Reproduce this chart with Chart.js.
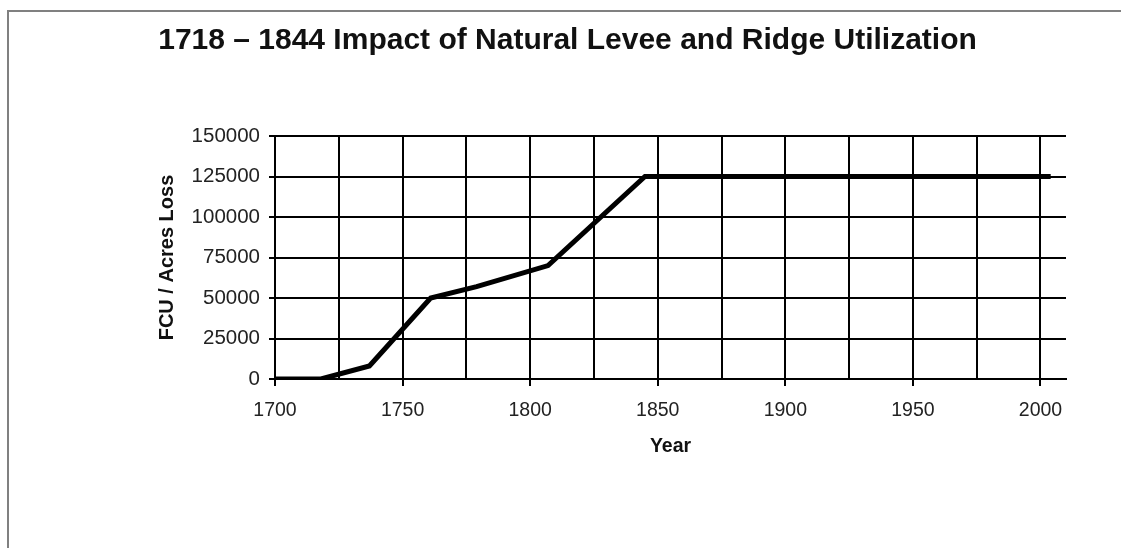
<!DOCTYPE html>
<html>
<head>
<meta charset="utf-8">
<title>1718 – 1844 Impact of Natural Levee and Ridge Utilization</title>
<script src="https://cdn.jsdelivr.net/npm/chart.js@4/dist/chart.umd.min.js"></script>
<style>
    html, body { margin: 0; padding: 0; background: #fff; overflow: hidden; }
    #frame {
        position: absolute; left: 7px; top: 10px;
        width: 1300px; height: 700px;
        border-top: 2px solid #808080; border-left: 2px solid #808080;
    }
    #chart { position: absolute; left: 0; top: 0; }
</style>
</head>
<body>
<div id="frame"></div>
<canvas id="chart" width="1121" height="548"></canvas>
<script>
// values
const years = [1700, 1718, 1737, 1761, 1779, 1807, 1845, 2004];
const acresLoss = [0, 0, 8000, 50000, 57000, 70000, 125000, 125000];

const gridYears = [1700, 1725, 1750, 1775, 1800, 1825, 1850, 1875, 1900, 1925, 1950, 1975, 2000];
const labelYears = [1700, 1750, 1800, 1850, 1900, 1950, 2000];
const yTicks = [0, 25000, 50000, 75000, 100000, 125000, 150000];

const FONT = "'Liberation Sans', Arial, sans-serif";

const points = years.map((y, i) => ({ x: y, y: acresLoss[i] }));

new Chart(document.getElementById("chart").getContext("2d"), {
    type: "line",
    data: {
        datasets: [{
            label: "FCU / Acres Loss",
            data: points,
            borderColor: "#000",
            borderWidth: 5,
            pointRadius: 0,
            tension: 0,
            fill: false
        }]
    },
    options: {
        responsive: false,
        animation: false,
        devicePixelRatio: 1,
        layout: {
            padding: { left: 69, right: 55, top: 0, bottom: 90 }
        },
        plugins: {
            legend: { display: false },
            tooltip: { enabled: false },
            title: {
                display: true,
                text: "1718 \u2013 1844 Impact of Natural Levee and Ridge Utilization",
                color: "#111",
                font: { family: FONT, size: 30, weight: "bold" },
                padding: { top: 23, bottom: 77 }
            }
        },
        scales: {
            x: {
                type: "linear",
                min: 1700,
                max: 2010,
                afterBuildTicks: (scale) => {
                    scale.ticks = gridYears.map(v => ({ value: v }));
                },
                afterFit: (scale) => { scale.height = 79; },
                ticks: {
                    autoSkip: false,
                    maxRotation: 0,
                    padding: 13,
                    color: "#222",
                    font: { family: FONT, size: 19.5 },
                    callback: (value) => labelYears.includes(value) ? String(value) : ""
                },
                grid: {
                    color: "#000",
                    lineWidth: 2,
                    tickLength: 7,
                    tickColor: (ctx) => ctx.tick && labelYears.includes(ctx.tick.value) ? "#000" : "rgba(0,0,0,0)"
                },
                border: { display: true, color: "#000", width: 2 },
                title: {
                    display: true,
                    text: "Year",
                    color: "#111",
                    font: { family: FONT, size: 19.5, weight: "bold" },
                    padding: { top: 0, bottom: 0 }
                }
            },
            y: {
                min: 0,
                max: 150000,
                afterBuildTicks: (scale) => {
                    scale.ticks = yTicks.map(v => ({ value: v }));
                },
                afterFit: (scale) => { scale.width = 206; },
                ticks: {
                    padding: 9,
                    color: "#222",
                    font: { family: FONT, size: 20.5 },
                    callback: (value) => String(value)
                },
                grid: {
                    color: "#000",
                    lineWidth: 2,
                    tickLength: 6
                },
                border: { display: true, color: "#000", width: 2 },
                title: {
                    display: true,
                    text: "FCU / Acres Loss",
                    color: "#111",
                    font: { family: FONT, size: 20, weight: "bold" },
                    padding: { top: 86, bottom: 0 }
                }
            }
        }
    }
});
</script>
</body>
</html>
